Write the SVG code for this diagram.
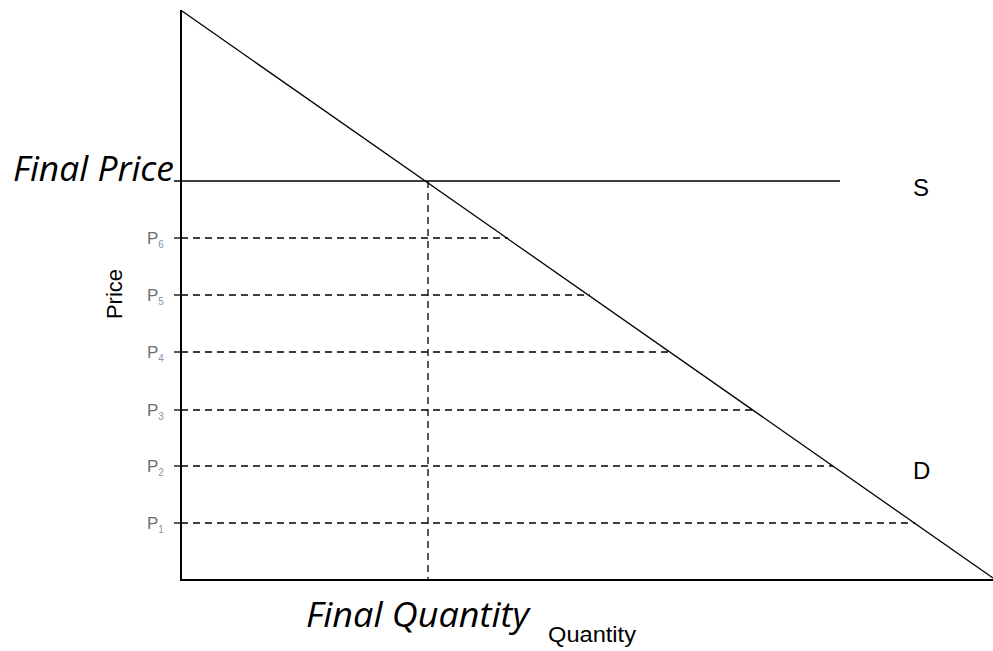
<svg xmlns="http://www.w3.org/2000/svg" width="993" height="651" viewBox="0 0 993 651">
<style>
.ax{stroke:#000;stroke-width:2;fill:none}
.ln{stroke:#000;stroke-width:1.3;fill:none}
.ds{stroke:#000;stroke-width:1.3;stroke-dasharray:7,5;fill:none}
.pl{font-family:"Liberation Sans",Arial,sans-serif;font-size:17px;fill:#6f6f6f}
.sub{font-size:10px;fill:#8a94a8}
.big{font-family:"Open Sans","Liberation Sans",sans-serif;font-style:italic;font-size:34px;fill:#000}
.lab{font-family:"Liberation Sans",Arial,sans-serif;fill:#000}
</style>
<rect width="993" height="651" fill="#fff"/>
<g id="connectors">
<line class="ds" x1="181" y1="238" x2="508" y2="238"/>
<line class="ds" x1="181" y1="295" x2="590" y2="295"/>
<line class="ds" x1="181" y1="352" x2="671" y2="352"/>
<line class="ds" x1="181" y1="410" x2="753" y2="410"/>
<line class="ds" x1="181" y1="466" x2="833" y2="466"/>
<line class="ds" x1="181" y1="523" x2="915" y2="523"/>
<line class="ds" x1="428" y1="181" x2="428" y2="580"/>
<line class="ln" x1="174" y1="238" x2="181" y2="238"/>
<line class="ln" x1="174" y1="295" x2="181" y2="295"/>
<line class="ln" x1="174" y1="352" x2="181" y2="352"/>
<line class="ln" x1="174" y1="410" x2="181" y2="410"/>
<line class="ln" x1="174" y1="466" x2="181" y2="466"/>
<line class="ln" x1="174" y1="523" x2="181" y2="523"/>
</g>
<g id="axes">
<line class="ax" x1="181" y1="10" x2="181" y2="581"/>
<line class="ax" x1="180" y1="580" x2="993" y2="580"/>
</g>
<g id="demand">
<line class="ln" x1="182" y1="11" x2="993" y2="578"/>
<text class="lab" x="913" y="479" font-size="24">D</text>
</g>
<g id="supply">
<line class="ln" x1="174" y1="181" x2="840" y2="181"/>
<text class="lab" x="913" y="196" font-size="24">S</text>
</g>
<g id="labels">
<text class="big" x="13" y="181" textLength="161" lengthAdjust="spacingAndGlyphs">Final Price</text>
<text class="big" x="306" y="627" textLength="223" lengthAdjust="spacingAndGlyphs">Final Quantity</text>
<text class="lab" x="548" y="642" font-size="22" textLength="88" lengthAdjust="spacingAndGlyphs">Quantity</text>
<text class="lab" x="122" y="294" font-size="22" text-anchor="middle" transform="rotate(-90 122 294)">Price</text>
<text class="pl" x="147" y="244">P<tspan class="sub" dy="4">6</tspan></text>
<text class="pl" x="147" y="301">P<tspan class="sub" dy="4">5</tspan></text>
<text class="pl" x="147" y="358">P<tspan class="sub" dy="4">4</tspan></text>
<text class="pl" x="147" y="416">P<tspan class="sub" dy="4">3</tspan></text>
<text class="pl" x="147" y="472">P<tspan class="sub" dy="4">2</tspan></text>
<text class="pl" x="147" y="529">P<tspan class="sub" dy="4">1</tspan></text>
</g>
</svg>
